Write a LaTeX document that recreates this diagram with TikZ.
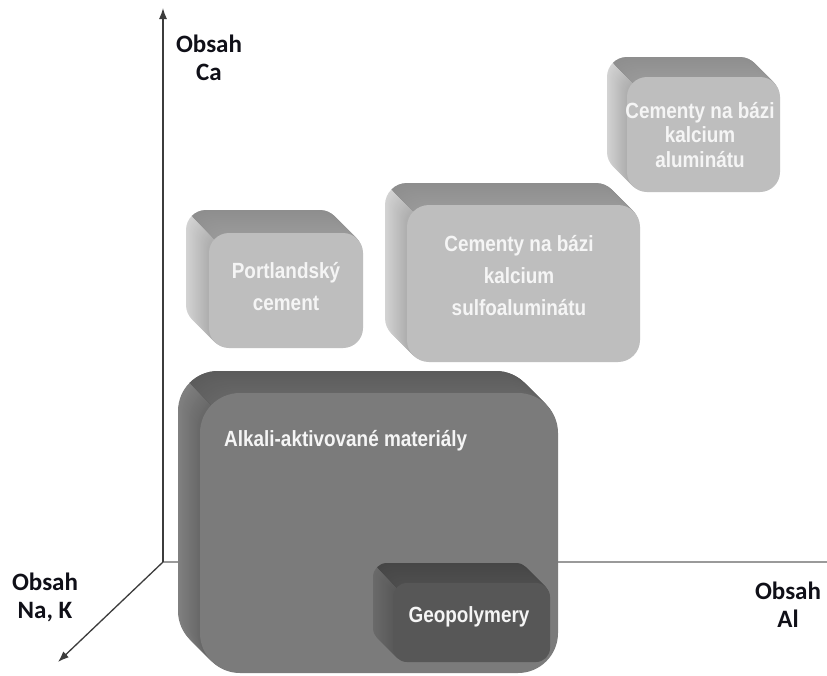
\documentclass[tikz,border=0pt]{standalone}
\usepackage{fontspec}
\usetikzlibrary{arrows.meta}
\newfontfamily\boxfont[FakeStretch=0.86]{Liberation Sans}
\newfontfamily\axfont{Carlito}
\definecolor{lightfront}{HTML}{BEBEBE}
\definecolor{lighttopback}{HTML}{8E8E8E}
\definecolor{lighttopfront}{HTML}{999999}
\definecolor{lightleftfar}{HTML}{D3D3D3}
\definecolor{lightleftnear}{HTML}{ADADAD}
\definecolor{aamfront}{HTML}{7B7B7B}
\definecolor{aamtopback}{HTML}{5C5C5C}
\definecolor{aamtopfront}{HTML}{666666}
\definecolor{aamleftfar}{HTML}{808080}
\definecolor{aamleftnear}{HTML}{676767}
\definecolor{geofront}{HTML}{575757}
\definecolor{geotopback}{HTML}{464646}
\definecolor{geotopfront}{HTML}{4E4E4E}
\definecolor{geoleftfar}{HTML}{6A6A6A}
\definecolor{geoleftnear}{HTML}{595959}
\definecolor{txtwhite}{HTML}{F5F5F5}
\definecolor{axlabel}{HTML}{101018}
\definecolor{axisdark}{HTML}{3C3C3C}
\definecolor{axisgrey}{HTML}{9A9A9A}
% #1 name, #2 x1, #3 y1, #4 x2, #5 y2, #6 depth, #7 radius, #8 colour prefix
\newcommand\cubebox[8]{%
  \pgfmathsetmacro\cw{#4-#2}%
  \pgfmathsetmacro\ch{#5-#3}%
  \foreach \t in {#6,...,1}{%
    \pgfmathsetmacro\pp{100*\t/#6}%
    \fill[rounded corners=#7pt, color=#8leftfar!\pp!#8leftnear] (#2-\t,#3-\t) rectangle (#4-\t,#5-\t);
  }%
  \begin{scope}
    \clip (#2-#6-60,#3-#6-60) -- (#4+60,#3-#6-60) -- (#4+60,#3+#4+60-#2) -- cycle;
    \foreach \t in {#6,...,1}{%
      \pgfmathsetmacro\pp{100*\t/#6}%
      \fill[rounded corners=#7pt, color=#8topback!\pp!#8topfront] (#2-\t,#3-\t) rectangle (#4-\t,#5-\t);
    }%
  \end{scope}
  \node[fill=#8front, rounded corners=#7pt, inner sep=0pt, draw=none,
        minimum width=\cw pt, minimum height=\ch pt] (#1) at ({(#2+#4)/2},{(#3+#5)/2}) {};
}
\tikzset{
  boxlabel/.style={text=txtwhite, align=center, inner sep=0pt},
  axislabel/.style={text=axlabel, align=center, inner sep=0pt,
    font={\axfont\bfseries\fontsize{25}{28}\selectfont}},
  axisline/.style={draw=axisdark, line width=1.3pt, -{Latex[length=11pt,width=8pt]}},
  axisflat/.style={draw=axisgrey, line width=1.8pt},
}
\begin{document}
\begin{tikzpicture}[x=1pt,y=-1pt]
\useasboundingbox (0,0) rectangle (827,675);
\fill[white] (0,0) rectangle (827,675);
% axes
\coordinate (O) at (163,562);
\coordinate (ytip) at (163,8);
\coordinate (xend) at (827,562);
\coordinate (ztip) at (58,662);
\draw[axisflat] (O) -- (xend);
\draw[axisline] (O) -- (ytip);
\draw[axisline] (O) -- (ztip);
% boxes
\cubebox{cac}{627}{77}{780}{192}{20}{20}{light}
\cubebox{csa}{407}{205}{640}{362}{22}{22}{light}
\cubebox{opc}{209}{233}{363}{348}{23}{20}{light}
\cubebox{aam}{200}{393}{558}{673}{22}{40}{aam}
\cubebox{geo}{393}{583}{550}{662}{20}{14}{geo}
% box texts
\node[boxlabel, font={\boxfont\bfseries\fontsize{22}{32}\selectfont}] (opctxt) at (286,287) {Portlandský\\cement};
\node[boxlabel, font={\boxfont\bfseries\fontsize{22}{32}\selectfont}] (csatxt) at (519,276) {Cementy na bázi\\kalcium\\sulfoaluminátu};
\node[boxlabel, font={\boxfont\bfseries\fontsize{22}{24.5}\selectfont}] (cactxt) at (700,135) {Cementy na bázi\\kalcium\\aluminátu};
\node[boxlabel, anchor=west, font={\boxfont\bfseries\fontsize{22}{25}\selectfont}] (aamtxt) at (224,441) {Alkali-aktivované materiály};
\node[boxlabel, font={\boxfont\bfseries\fontsize{22}{25}\selectfont}] (geotxt) at (469,617) {Geopolymery};
% axis labels
\node[axislabel] (calbl) at (209,58) {Obsah\\Ca};
\node[axislabel] (nklbl) at (45,597) {Obsah\\Na, K};
\node[axislabel] (allbl) at (788,605) {Obsah\\Al};
\end{tikzpicture}
\end{document}
